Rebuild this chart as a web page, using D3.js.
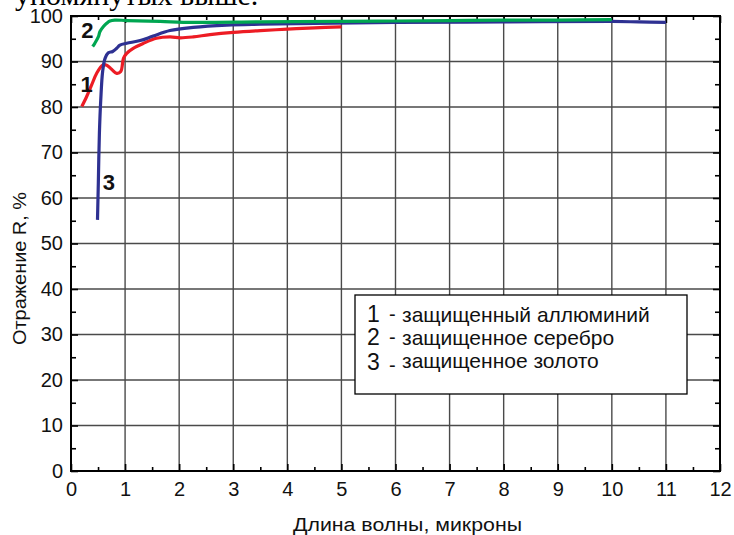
<!DOCTYPE html>
<html><head><meta charset="utf-8">
<script src="https://cdn.jsdelivr.net/npm/d3@7"></script>
<style>body{margin:0;background:#fff}svg{display:block}</style>
</head><body>
<svg id="c" width="734" height="535"></svg>
<script>
// ---- data ----
const xTicks = [0,1,2,3,4,5,6,7,8,9,10,11,12];
const yTicks = [0,10,20,30,40,50,60,70,80,90,100];
const xMinor = d3.range(0.5, 12, 1);
const yMinor = d3.range(5, 100, 10);
const seriesAl = [[0.2,80.1],[0.29,82.3],[0.38,84.8],[0.475,87.4],[0.585,89.2],[0.66,89.2],[0.75,88.3],[0.845,87.4],[0.92,87.8],[0.97,90.7],[1.03,91.8],[1.15,92.9],[1.34,94.0],[1.58,95.1],[1.83,95.4],[2.02,95.2],[2.26,95.4],[2.57,95.9],[3.0,96.4],[3.5,96.8],[4.0,97.1],[4.5,97.4],[5.0,97.6]];
const seriesAg = [[0.4,93.3],[0.44,94.0],[0.505,95.4],[0.536,96.6],[0.6,97.7],[0.66,98.4],[0.72,98.9],[0.81,99.1],[1.03,99.0],[1.65,98.8],[2.26,98.6],[3.5,98.7],[5,98.8],[6,98.9],[7,99.0],[8,99.1],[9,99.1],[10,99.2]];
const seriesAu = [[0.49,55.2],[0.505,63.2],[0.525,74.2],[0.55,81.5],[0.585,87.8],[0.63,90.7],[0.69,91.9],[0.77,92.2],[0.845,92.9],[0.905,93.6],[1.03,94.0],[1.28,94.6],[1.52,95.6],[1.83,96.8],[2.26,97.5],[2.88,98.0],[3.5,98.2],[4.5,98.4],[6,98.6],[8,98.7],[10,98.8],[10.5,98.7],[11,98.6]];
const seriesNames = ["1","2","3"];
const legendLabels = ["защищенный аллюминий","защищенное серебро","защищенное золото"];
const colors = ["#ed1c24","#00a651","#2e3192"];
const xTitle = "Длина волны, микроны";
const yTitle = "Отражение R, %";
const headText = "упомянутых выше.";

// ---- layout ----
const L=71, R=720, T=16, B=471;
const x = d3.scaleLinear([0,12],[L,R]);
const y = d3.scaleLinear([0,100],[B,T]);
const svg = d3.select("#c");
const font = "Liberation Sans, Arial, sans-serif";

svg.append("text").attr("x",15).attr("y",5).attr("font-family","Liberation Serif, Times New Roman, serif")
  .attr("font-size",30).attr("fill","#000").text(headText);

// grid
const g = svg.append("g");
g.selectAll(".vg").data(xTicks.slice(1,-1)).join("line")
  .attr("x1",d=>x(d)).attr("x2",d=>x(d)).attr("y1",T).attr("y2",B)
  .attr("stroke","#4a4a4a").attr("stroke-width",1.4);
g.selectAll(".hg").data(yTicks.slice(1,-1)).join("line")
  .attr("y1",d=>y(d)).attr("y2",d=>y(d)).attr("x1",L).attr("x2",R)
  .attr("stroke","#4a4a4a").attr("stroke-width",1.4);

// axes via d3 axis, ticks inward
const axB = d3.axisBottom(x).tickValues(xTicks).tickSize(-7).tickFormat(d=>d).tickPadding(11);
const axBm = d3.axisBottom(x).tickValues(xMinor).tickSize(-4).tickFormat("");
const axT = d3.axisTop(x).tickValues(xTicks).tickSize(-7).tickFormat("");
const axTm = d3.axisTop(x).tickValues(xMinor).tickSize(-4).tickFormat("");
const axL = d3.axisLeft(y).tickValues(yTicks).tickSize(-7).tickFormat(d=>d).tickPadding(8);
const axLm = d3.axisLeft(y).tickValues(yMinor).tickSize(-5).tickFormat("");
const axR = d3.axisRight(y).tickValues(yTicks).tickSize(-7).tickFormat("");
const axRm = d3.axisRight(y).tickValues(yMinor).tickSize(-5).tickFormat("");
function styleAx(sel){
  sel.select(".domain").remove();
  sel.selectAll("line").attr("stroke","#000").attr("stroke-width",1.6);
  sel.selectAll("text").attr("font-family",font).attr("font-size",20).attr("fill","#111");
}
svg.append("g").attr("transform",`translate(0,${B})`).call(axB).call(styleAx);
svg.append("g").attr("transform",`translate(0,${B})`).call(axBm).call(styleAx);
svg.append("g").attr("transform",`translate(0,${T})`).call(axT).call(styleAx);
svg.append("g").attr("transform",`translate(0,${T})`).call(axTm).call(styleAx);
svg.append("g").attr("transform",`translate(${L},0)`).call(axL).call(styleAx);
svg.append("g").attr("transform",`translate(${L},0)`).call(axLm).call(styleAx);
svg.append("g").attr("transform",`translate(${R},0)`).call(axR).call(styleAx);
svg.append("g").attr("transform",`translate(${R},0)`).call(axRm).call(styleAx);

// frame
svg.append("rect").attr("x",L).attr("y",T).attr("width",R-L).attr("height",B-T)
  .attr("fill","none").attr("stroke","#000").attr("stroke-width",2);

// curves
const line = d3.line().x(d=>x(d[0])).y(d=>y(d[1])).curve(d3.curveCatmullRom.alpha(0.5));
[seriesAl, seriesAu, seriesAg].forEach((s,i)=>{
  const ci = [0,2,1][i];
  svg.append("path").datum(s).attr("d",line).attr("fill","none")
    .attr("stroke",colors[ci]).attr("stroke-width",3.2).attr("stroke-linejoin","round").attr("stroke-linecap","butt");
});

// curve labels
const labPos = [[0.29,83.4],[0.305,95.2],[0.70,61.8]];
labPos.forEach((p,i)=>{
  svg.append("text").attr("x",x(p[0])).attr("y",y(p[1])).attr("text-anchor","middle")
    .attr("font-family",font).attr("font-weight","bold").attr("font-size",22).attr("fill","#111").text(seriesNames[i]);
});

// axis titles
svg.append("text").attr("x",293).attr("y",531)
  .attr("font-family",font).attr("font-size",18).attr("textLength",229).attr("lengthAdjust","spacingAndGlyphs")
  .attr("fill","#111").text(xTitle);
svg.append("text").attr("transform","translate(26,345) rotate(-90)")
  .attr("font-family",font).attr("font-size",18).attr("textLength",153).attr("lengthAdjust","spacingAndGlyphs")
  .attr("fill","#111").text(yTitle);

// legend
svg.append("rect").attr("x",355).attr("y",295).attr("width",332).attr("height",99)
  .attr("fill","#fff").attr("stroke","#000").attr("stroke-width",1.3);
legendLabels.forEach((t,i)=>{
  const by = 322 + i*23;
  svg.append("text").attr("x",367).attr("y",by+(i==2?2:0)).attr("font-family",font).attr("font-size",23).attr("fill","#111").text(seriesNames[i]);
  svg.append("text").attr("x",389).attr("y",by+(i==2?4:-1)).attr("font-family",font).attr("font-size",20).attr("fill","#111").text("-");
  svg.append("text").attr("x",402).attr("y",by).attr("font-family",font).attr("font-size",21).attr("fill","#111").text(t);
});
</script>
</body></html>
